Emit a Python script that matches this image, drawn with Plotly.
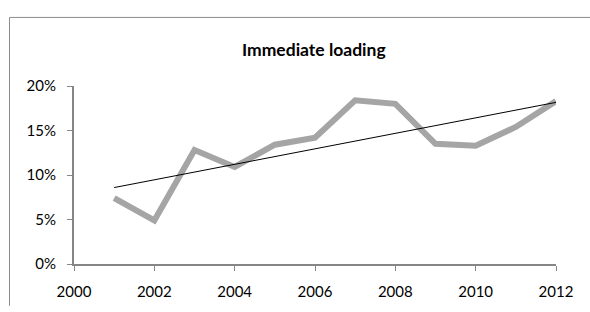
import numpy as np
import plotly.graph_objects as go

years = [2001, 2002, 2003, 2004, 2005, 2006, 2007, 2008, 2009, 2010, 2011, 2012]
immediate_loading = [0.074, 0.049, 0.128, 0.109, 0.134, 0.142, 0.184, 0.180, 0.135, 0.133, 0.154, 0.183]
title_text = "Immediate loading"
y_ticks = [0, 0.05, 0.10, 0.15, 0.20]
y_tick_labels = ["0%", "5%", "10%", "15%", "20%"]
x_ticks = [2000, 2002, 2004, 2006, 2008, 2010, 2012]

# Linear trendline (least squares fit of the series)
slope, intercept = np.polyfit(years, immediate_loading, 1)
trend_x = [years[0], years[-1]]
trend_y = [slope * x + intercept for x in trend_x]

W, H = 590, 312
L, R, T, B = 74, 34, 86, 43
pw, ph = W - L - R, H - T - B

def px_to_paper_x(px):
    return (px - L) / pw

def px_to_paper_y(py):
    return (H - B - py) / ph

FONT = "Lato, 'Open Sans', sans-serif"
AXIS_COLOR = "#868686"

fig = go.Figure()
fig.add_trace(go.Scatter(x=years, y=immediate_loading, mode="lines",
                         line=dict(color="#A5A5A5", width=6), showlegend=False,
                         hoverinfo="skip"))
fig.add_trace(go.Scatter(x=trend_x, y=trend_y, mode="lines",
                         line=dict(color="#000000", width=1), showlegend=False,
                         hoverinfo="skip"))

fig.update_layout(
    width=W, height=H,
    margin=dict(l=L, r=R, t=T, b=B, pad=0),
    paper_bgcolor="white", plot_bgcolor="white",
    font=dict(family=FONT, size=15, color="#000000"),
    showlegend=False,
    annotations=[dict(text="<b>" + title_text + "</b>", x=px_to_paper_x(314),
                      y=px_to_paper_y(48), xref="paper", yref="paper",
                      xanchor="center", yanchor="middle", showarrow=False,
                      font=dict(family=FONT, size=17.5, color="#000000"))],
    shapes=[
        dict(type="line", xref="paper", yref="paper",
             x0=px_to_paper_x(9.5), x1=px_to_paper_x(9.5),
             y0=px_to_paper_y(312), y1=px_to_paper_y(15.5),
             line=dict(color="#8C8C8C", width=1), layer="above"),
        dict(type="line", xref="paper", yref="paper",
             x0=px_to_paper_x(9.5), x1=px_to_paper_x(590),
             y0=px_to_paper_y(15.5), y1=px_to_paper_y(15.5),
             line=dict(color="#8C8C8C", width=1), layer="above"),
    ],
)

fig.update_xaxes(range=[2000, 2012], tickmode="array", tickvals=x_ticks,
                 ticktext=[str(v) for v in x_ticks],
                 showgrid=False, zeroline=False, showline=True,
                 linecolor=AXIS_COLOR, linewidth=2, ticks="outside",
                 ticklen=5, tickwidth=1, tickcolor=AXIS_COLOR,
                 ticklabelstandoff=8, tickfont=dict(family=FONT, size=15))
fig.update_yaxes(range=[0, 0.2], tickmode="array", tickvals=y_ticks,
                 ticktext=y_tick_labels,
                 showgrid=False, zeroline=False, showline=True,
                 linecolor=AXIS_COLOR, linewidth=2, ticks="outside",
                 ticklen=5, tickwidth=1, tickcolor=AXIS_COLOR,
                 ticklabelstandoff=8, tickfont=dict(family=FONT, size=15))

fig.write_html("out.html", config={"displayModeBar": False},
               post_script="document.body.style.margin='0';")
